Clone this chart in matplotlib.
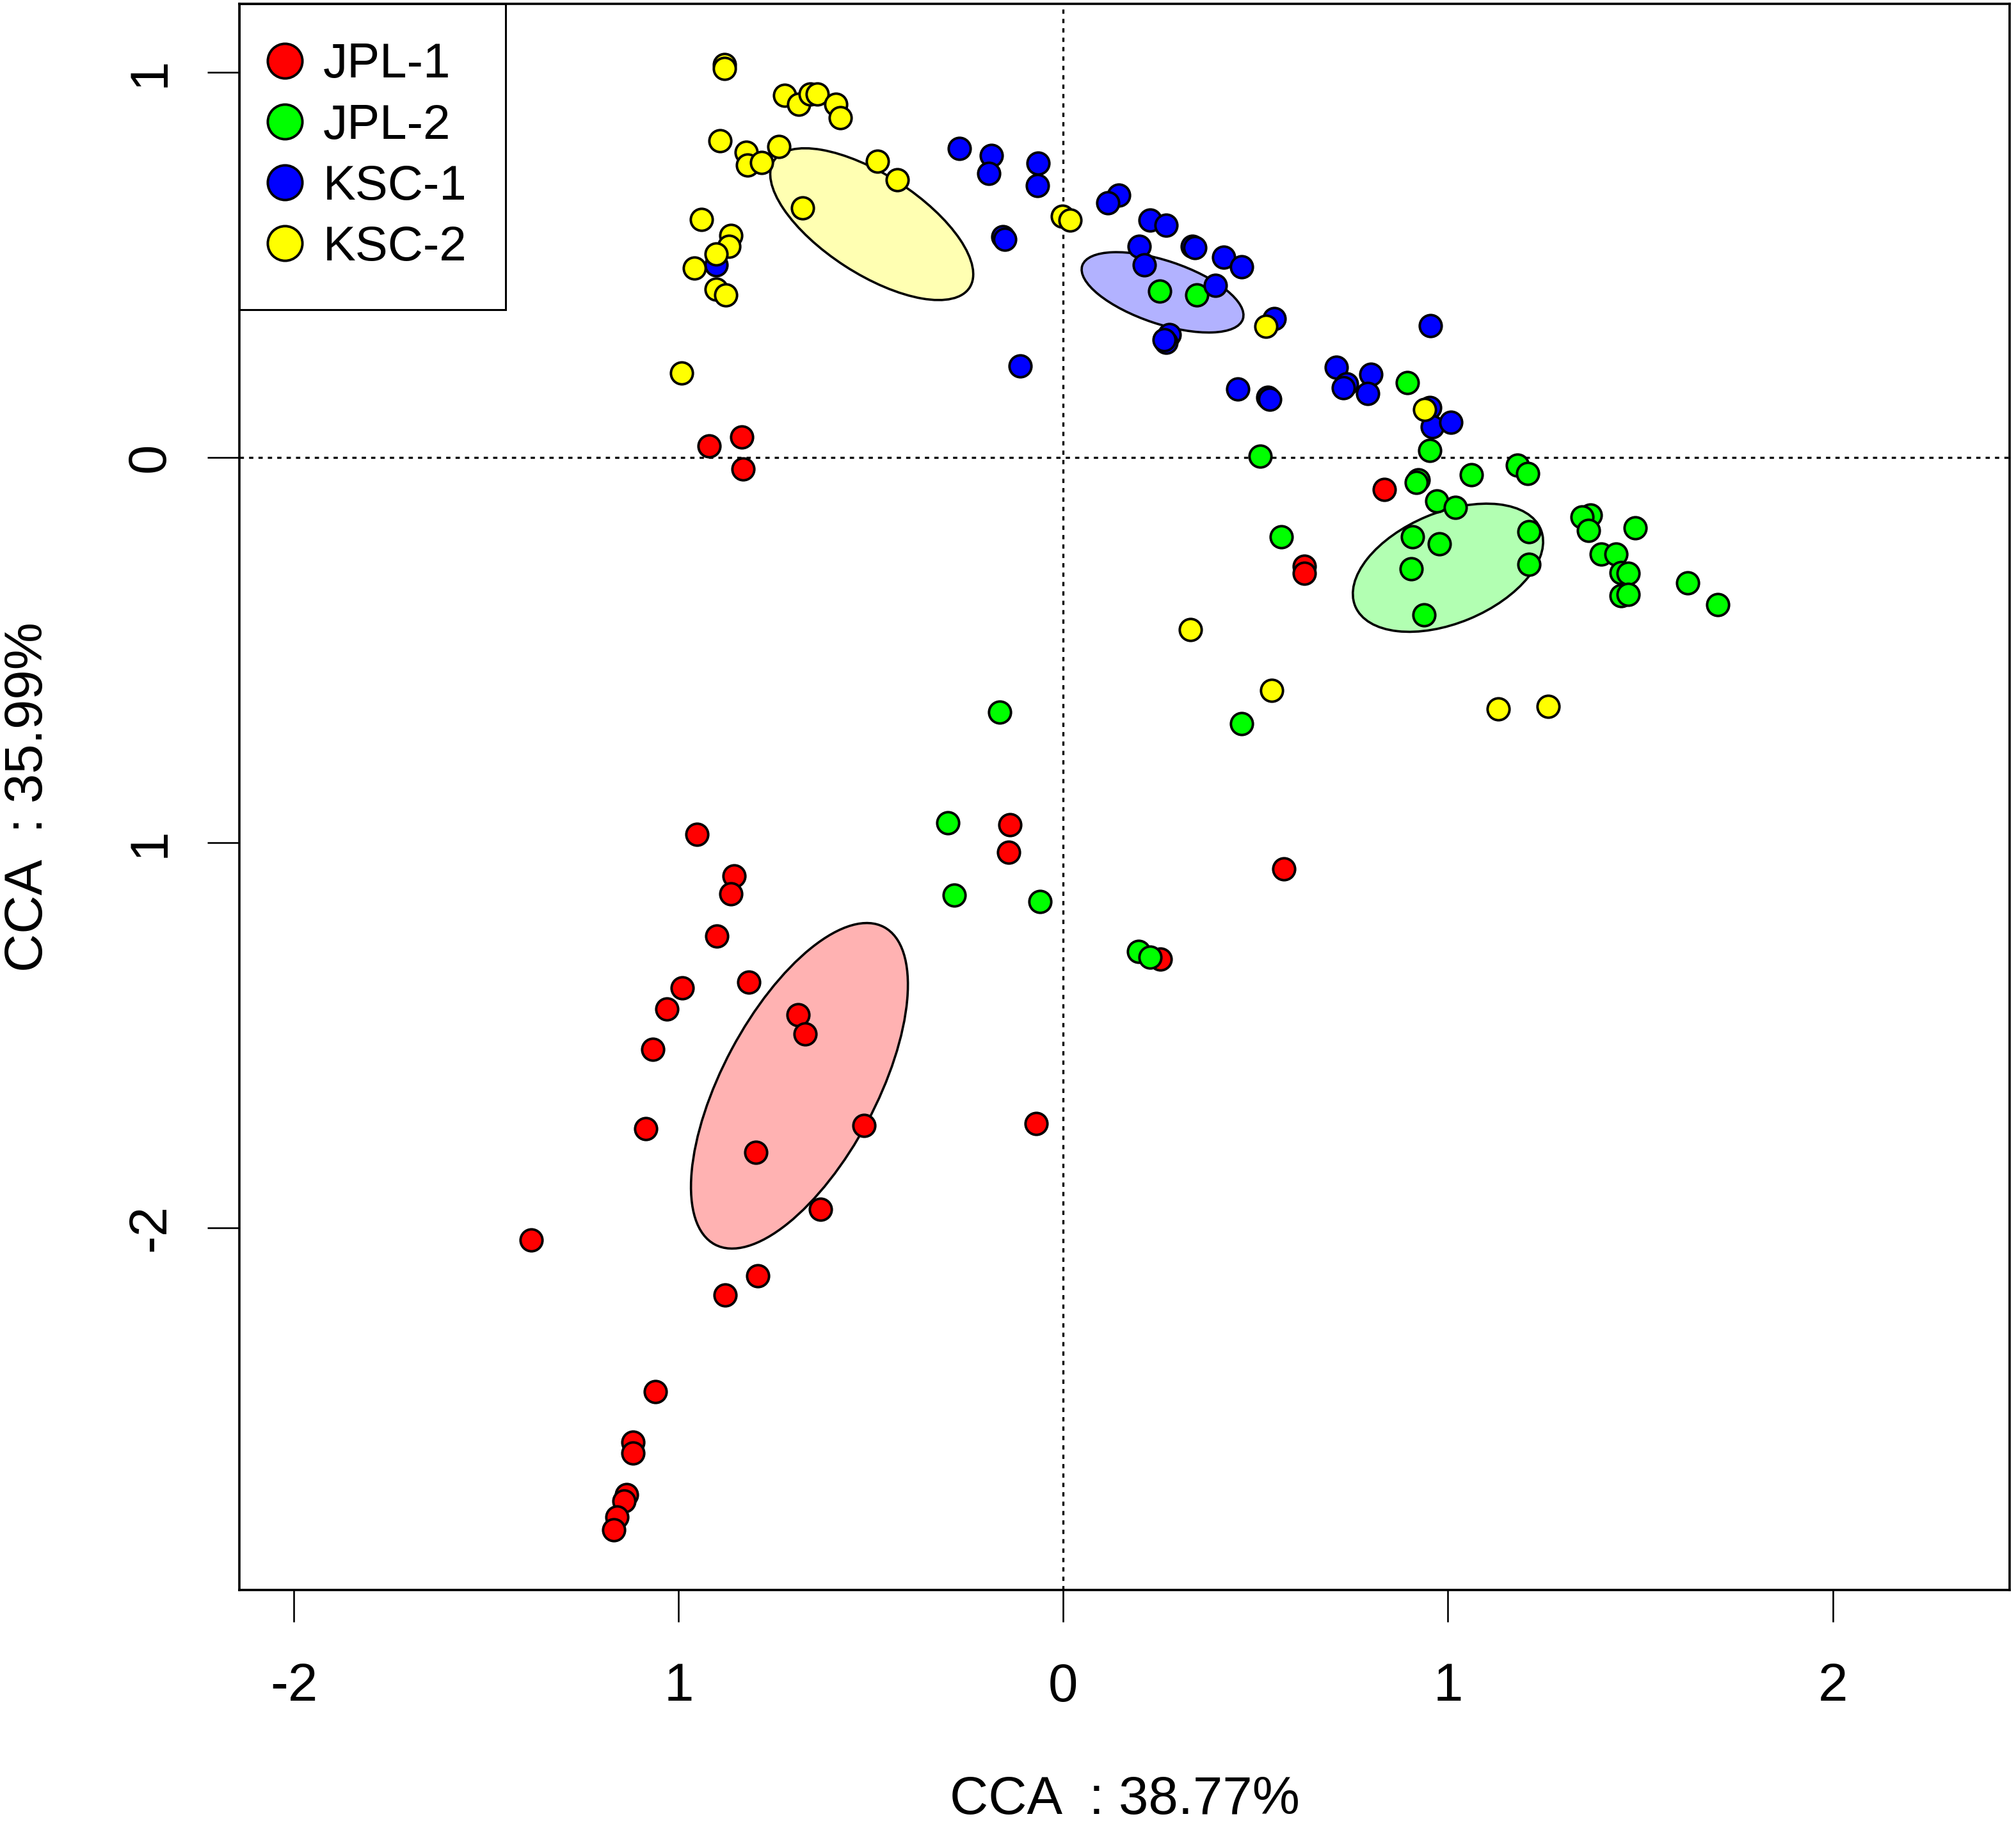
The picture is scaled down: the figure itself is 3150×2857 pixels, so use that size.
import matplotlib
matplotlib.use("Agg")
import matplotlib.pyplot as plt
from matplotlib.patches import Ellipse
from matplotlib.lines import Line2D
import numpy as np

plt.rcParams['font.family'] = ['Liberation Sans', 'DejaVu Sans']

# ---------------- data ----------------
groups = ["JPL-1", "JPL-2", "KSC-1", "KSC-2"]
colors = ["#FF0000", "#00FF00", "#0000FF", "#FFFF00"]

jpl1_x = [-0.921, -0.836, -0.832, 0.834, 0.626, 0.626, -0.138, -0.142, 0.574, -0.071,
          0.252, -0.952, -0.856, -0.865, -0.901, -0.990, -1.031, -0.818, -0.690, -0.671,
          -1.068, -1.085, -0.799, -0.518, -0.632, -1.383, -0.794, -0.879, -1.060, -1.118,
          -1.118, -1.135, -1.142, -1.161, -1.168]
jpl1_y = [0.029, 0.052, -0.030, -0.083, -0.283, -0.301, -0.954, -1.026, -1.069, -1.730,
          -1.303, -0.980, -1.087, -1.133, -1.243, -1.378, -1.432, -1.363, -1.448, -1.498,
          -1.537, -1.744, -1.804, -1.735, -1.952, -2.033, -2.126, -2.175, -2.426, -2.558,
          -2.586, -2.693, -2.710, -2.752, -2.785]

jpl2_x = [0.250, 0.347, 0.894, 0.953, 0.512, 0.922, 0.918, 1.060, 1.180, 1.207, 0.971, 1.020,
          0.566, 0.908, 0.977, 0.904, 0.938, 1.211, 1.211, 1.370, 1.349, 1.365, 1.487,
          1.398, 1.436, 1.450, 1.469, 1.450, 1.469, 1.623, 1.701, 0.463, -0.166, -0.301,
          -0.284, -0.061, 0.196, 0.226]
jpl2_y = [0.431, 0.422, 0.194, 0.017, 0.002, -0.059, -0.066, -0.046, -0.020, -0.042, -0.113, -0.131,
          -0.207, -0.207, -0.225, -0.289, -0.410, -0.193, -0.279, -0.150, -0.156, -0.190, -0.183,
          -0.252, -0.252, -0.300, -0.301, -0.360, -0.357, -0.327, -0.383, -0.692, -0.662, -0.949,
          -1.137, -1.154, -1.283, -1.298]

ksc1_x = [-0.271, -0.187, -0.194, -0.066, -0.068, -0.157, -0.152, -0.113, -0.903, 0.144,
          0.116, 0.226, 0.267, 0.197, 0.210, 0.335, 0.342, 0.417, 0.463, 0.395,
          0.276, 0.267, 0.262, 0.549, 0.955, 0.454, 0.531, 0.537, 0.709, 0.736,
          0.728, 0.800, 0.791, 0.953, 0.960, 1.007]
ksc1_y = [0.802, 0.784, 0.737, 0.764, 0.706, 0.572, 0.565, 0.236, 0.499, 0.680,
          0.660, 0.615, 0.603, 0.547, 0.500, 0.547, 0.544, 0.520, 0.494, 0.446,
          0.319, 0.298, 0.305, 0.360, 0.342, 0.177, 0.156, 0.150, 0.233, 0.191,
          0.180, 0.215, 0.165, 0.128, 0.079, 0.091]

ksc2_x = [-0.881, -0.881, -0.725, -0.688, -0.658, -0.640, -0.591, -0.580, -0.892, -0.825,
          -0.821, -0.784, -0.740, -0.484, -0.432, -0.678, -0.940, -0.864, -0.869, -0.903,
          -0.959, -0.903, -0.877, -0.992, -0.002, 0.017, 0.527, 0.940, 0.331, 0.541,
          1.131, 1.260]
ksc2_y = [1.020, 1.010, 0.939, 0.917, 0.943, 0.942, 0.917, 0.882, 0.821, 0.791,
          0.758, 0.765, 0.806, 0.769, 0.721, 0.647, 0.617, 0.576, 0.547, 0.528,
          0.491, 0.436, 0.421, 0.219, 0.625, 0.616, 0.339, 0.123, -0.447, -0.606,
          -0.653, -0.647]

# ellipses: centre x, centre y, semi-major, semi-minor, angle (deg)
ell_cx = [-0.686, 1.000, 0.258, -0.498]
ell_cy = [-1.632, -0.287, 0.428, 0.605]
ell_a = [0.467, 0.261, 0.220, 0.303]
ell_b = [0.200, 0.144, 0.082, 0.129]
ell_ang = [61.9, 22.5, -18.4, -32.9]

xticks = [-2, -1, 0, 1, 2]
xtick_labels = ["-2", "1", "0", "1", "2"]
yticks = [1, 0, -1, -2]
ytick_labels = ["1", "0", "1", "-2"]
xlabel = "CCA  : 38.77%"
ylabel = "CCA  : 35.99%"

# ---------------- figure ----------------
W, H = 3150, 2857
fig = plt.figure(figsize=(W / 100, H / 100), dpi=100)
ax = fig.add_axes([374 / W, 1 - 2485 / H, (3140 - 374) / W, (2485 - 6) / H])
ax.set_xlim(-2.142, 2.460)
ax.set_ylim(-2.941, 1.177)

# reference lines
ax.axhline(0, color='black', lw=2.4, ls=(0, (2.0, 2.4)), zorder=1)
ax.axvline(0, color='black', lw=2.4, ls=(0, (2.0, 2.4)), zorder=1)

# ellipses
for cx, cy, a, b, ang, c in zip(ell_cx, ell_cy, ell_a, ell_b, ell_ang, colors):
    ax.add_patch(Ellipse((cx, cy), 2 * a, 2 * b, angle=ang, facecolor=c, alpha=0.3,
                         edgecolor='none', zorder=2))
    ax.add_patch(Ellipse((cx, cy), 2 * a, 2 * b, angle=ang, facecolor='none',
                         edgecolor='black', lw=2.6, zorder=2.1))

# points
series = [(jpl1_x, jpl1_y), (jpl2_x, jpl2_y), (ksc1_x, ksc1_y), (ksc2_x, ksc2_y)]
for (xs, ys), c in zip(series, colors):
    ax.scatter(xs, ys, s=610, c=c, edgecolors='black', linewidths=2.8, zorder=3)

# axes styling
for sp in ax.spines.values():
    sp.set_linewidth(2.6)
ax.set_xticks(xticks)
ax.set_xticklabels(xtick_labels)
ax.set_yticks(yticks)
ax.set_yticklabels(ytick_labels, rotation=90, va='center')
ax.tick_params(axis='both', direction='out', length=36, width=1.9, labelsize=60)
ax.tick_params(axis='x', pad=45)
ax.tick_params(axis='y', pad=36)

ax.set_xlabel(xlabel, fontsize=60, labelpad=71)
ax.set_ylabel(ylabel, fontsize=60, labelpad=81)

# legend
handles = [Line2D([], [], ls='', marker='o', markersize=39.0, markerfacecolor=c,
                  markeredgecolor='black', markeredgewidth=2.8) for c in colors]
leg = ax.legend(handles, groups, loc='upper left', bbox_to_anchor=(0, 1),
                borderaxespad=0, fontsize=55, borderpad=0.79, handlelength=0.27,
                handletextpad=0.65, labelspacing=0.318, fancybox=False,
                framealpha=1, edgecolor='black')
leg.get_frame().set_linewidth(2.2)
leg.set_zorder(5)

fig.savefig("out.png", dpi=100)
